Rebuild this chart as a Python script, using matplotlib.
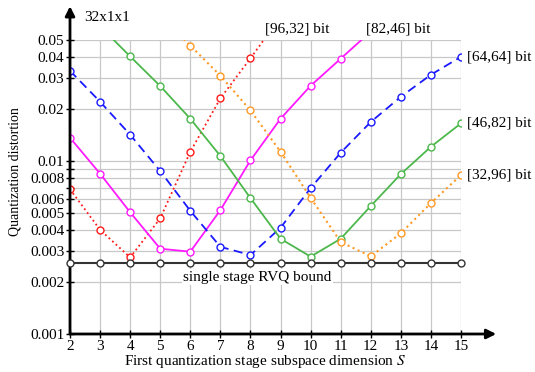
import numpy as np
import matplotlib
matplotlib.use('Agg')
import matplotlib.pyplot as plt
from matplotlib.ticker import FixedLocator, NullFormatter

plt.rcParams['font.family'] = ['Liberation Serif', 'DejaVu Serif']
plt.rcParams['mathtext.fontset'] = 'stix'

# subspace dimension of the first stage
dims = np.arange(2, 16)

# distortion per bit split (nan = not drawn)
d_96_32 = [0.00686, 0.00400, 0.00277, 0.00466, 0.01130, 0.0230, 0.0392, 0.068,
           np.nan, np.nan, np.nan, np.nan, np.nan, np.nan]
d_82_46 = [0.01362, 0.00844, 0.00505, 0.00311, 0.00299, 0.00520, 0.01008, 0.01754,
           0.0272, 0.0390, 0.056, np.nan, np.nan, np.nan]
d_64_64 = [0.0332, 0.0220, 0.01418, 0.00874, 0.00515, 0.00319, 0.00286, 0.00411,
           0.00697, 0.01116, 0.0168, 0.0235, 0.0315, 0.0400]
d_46_82 = [np.nan, 0.060, 0.0402, 0.0271, 0.01754, 0.01068, 0.00610, 0.00355,
           0.00280, 0.00355, 0.00549, 0.00840, 0.01208, 0.0165]
d_32_96 = [np.nan, np.nan, np.nan, 0.069, 0.0464, 0.0311, 0.0196, 0.0113,
           0.00613, 0.00340, 0.00281, 0.00382, 0.00571, 0.00829]
rvq_bound = 0.00258

ytick_vals = [0.001, 0.002, 0.003, 0.004, 0.005, 0.006, 0.008, 0.01,
              0.02, 0.03, 0.04, 0.05]
ytick_labels = ['0.001', '0.002', '0.003', '0.004', '0.005', '0.006', '0.008',
                '0.01', '0.02', '0.03', '0.04', '0.05']
yminor_vals = [0.007, 0.009]

fig = plt.figure(figsize=(5.35, 3.72), dpi=100)
ax = fig.add_axes([70 / 535, 1 - 334 / 372, 391 / 535, 294 / 372])
ax.set_yscale('log')
ax.set_xlim(2, 15)
ax.set_ylim(0.001, 0.05)

ax.set_xticks(dims)
ax.yaxis.set_major_locator(FixedLocator(ytick_vals))
ax.set_yticklabels(ytick_labels)
ax.yaxis.set_minor_locator(FixedLocator(yminor_vals))
ax.yaxis.set_minor_formatter(NullFormatter())
ax.tick_params(axis='both', which='major', direction='inout', length=6,
               width=1, labelsize=11, pad=1)
ax.tick_params(axis='y', which='minor', direction='inout', length=6, width=1)
ax.grid(True, which='both', color='#c8c8c8', lw=0.9, zorder=0)
for s in ['top', 'right', 'left', 'bottom']:
    ax.spines[s].set_visible(False)

mk = dict(marker='o', markersize=5, markerfacecolor='white', markeredgewidth=1)
ax.plot(dims, d_96_32, ':', color='#ff1a1a', lw=1.3, markeredgecolor='#ff1a1a', **mk)
ax.plot(dims, d_82_46, '-', color='#ff1aff', lw=1.3, markeredgecolor='#ff1aff', **mk)
ax.plot(dims, d_64_64, '--', color='#1a1aff', lw=1.3, dashes=(5, 3),
        markeredgecolor='#1a1aff', **mk)
ax.plot(dims, d_46_82, '-', color='#4cb84c', lw=1.3, markeredgecolor='#4cb84c', **mk)
ax.plot(dims, d_32_96, ':', color='#ff9a26', lw=1.5, markeredgecolor='#ff9a26', **mk)
ax.plot(dims, [rvq_bound] * len(dims), '-', color='#333333', lw=1.5,
        markeredgecolor='#333333', clip_on=False, zorder=5, **mk)

# axes with arrows
ax.annotate('', xy=(0, 1.115), xytext=(0, 0), xycoords='axes fraction',
            arrowprops=dict(arrowstyle='-|>', color='k', lw=2, mutation_scale=14,
                            shrinkA=0, shrinkB=0), annotation_clip=False)
ax.annotate('', xy=(1.09, 0), xytext=(0, 0), xycoords='axes fraction',
            arrowprops=dict(arrowstyle='-|>', color='k', lw=2, mutation_scale=14,
                            shrinkA=0, shrinkB=0), annotation_clip=False)

ax.text(0.036, 1.078, '32x1x1', transform=ax.transAxes, fontsize=11,
        ha='left', va='center')
ax.text(9.55, 0.0575, '[96,32] bit', fontsize=11, ha='center', va='center', clip_on=False)
ax.text(12.9, 0.0575, '[82,46] bit', fontsize=11, ha='center', va='center', clip_on=False)
ax.text(15.2, 0.0400, '[64,64] bit', fontsize=11, ha='left', va='center', clip_on=False)
ax.text(15.2, 0.0165, '[46,82] bit', fontsize=11, ha='left', va='center', clip_on=False)
ax.text(15.2, 0.00829, '[32,96] bit', fontsize=11, ha='left', va='center', clip_on=False)
ax.text(8.22, 0.00213, 'single stage RVQ bound', fontsize=11, ha='center', va='center',
        bbox=dict(facecolor='white', edgecolor='none', pad=1), zorder=6)

ax.set_xlabel('First quantization stage subspace dimension $S$', fontsize=11, labelpad=0)
ax.set_ylabel('Quantization distortion', fontsize=10, va='center')
ax.yaxis.set_label_coords(-55 / 391, (334 - 172) / 294)

fig.savefig('out.png', dpi=100)
